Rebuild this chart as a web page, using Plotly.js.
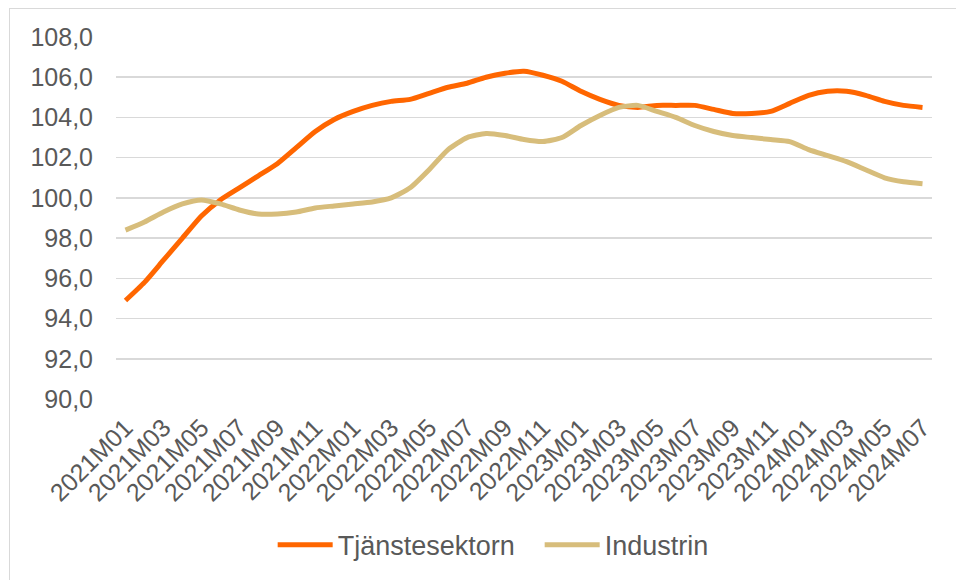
<!DOCTYPE html>
<html>
<head>
<meta charset="utf-8">
<script src="https://cdn.plot.ly/plotly-3.0.1.min.js"></script>
<style>
  html, body { margin: 0; padding: 0; background: #fff; }
  #wrap { position: relative; width: 956px; height: 580px; overflow: hidden; }
  #chart { width: 956px; height: 580px; }
  #frame { position: absolute; left: 9px; top: 8px; width: 980px; height: 600px;
           border: 1.5px solid #d9d9d9; pointer-events: none; box-sizing: border-box; }
</style>
</head>
<body>
<div id="wrap">
  <div id="chart"></div>
  <div id="frame"></div>
</div>
<script>
const months = [
  "2021M01","2021M02","2021M03","2021M04","2021M05","2021M06","2021M07","2021M08","2021M09","2021M10","2021M11","2021M12",
  "2022M01","2022M02","2022M03","2022M04","2022M05","2022M06","2022M07","2022M08","2022M09","2022M10","2022M11","2022M12",
  "2023M01","2023M02","2023M03","2023M04","2023M05","2023M06","2023M07","2023M08","2023M09","2023M10","2023M11","2023M12",
  "2024M01","2024M02","2024M03","2024M04","2024M05","2024M06","2024M07"
];
const tjanstesektorn = [
  94.9, 95.8, 96.9, 98.0, 99.1, 99.9, 100.5, 101.1, 101.7, 102.5, 103.3, 103.9,
  104.3, 104.6, 104.8, 104.9, 105.2, 105.5, 105.7, 106.0, 106.2, 106.3, 106.1, 105.8,
  105.3, 104.9, 104.6, 104.5, 104.6, 104.6, 104.6, 104.4, 104.2, 104.2, 104.3, 104.7,
  105.1, 105.3, 105.3, 105.1, 104.8, 104.6, 104.5
];
const industrin = [
  98.4, 98.8, 99.3, 99.7, 99.9, 99.7, 99.4, 99.2, 99.2, 99.3, 99.5, 99.6,
  99.7, 99.8, 100.0, 100.5, 101.4, 102.4, 103.0, 103.2, 103.1, 102.9, 102.8, 103.0,
  103.6, 104.1, 104.5, 104.6, 104.3, 104.0, 103.6, 103.3, 103.1, 103.0, 102.9, 102.8,
  102.4, 102.1, 101.8, 101.4, 101.0, 100.8, 100.7
];
const seriesNames = ["Tjänstesektorn", "Industrin"];
const yTicks = [90, 92, 94, 96, 98, 100, 102, 104, 106, 108];

const font = "Liberation Sans, Arial, sans-serif";
const textColor = "#595959";

const traces = [
  { x: months, y: tjanstesektorn, name: seriesNames[0], type: "scatter", mode: "lines",
    line: { color: "#FF6600", width: 5, shape: "spline", smoothing: 0.6 } },
  { x: months, y: industrin, name: seriesNames[1], type: "scatter", mode: "lines",
    line: { color: "#D7BD7B", width: 5, shape: "spline", smoothing: 0.6 } }
];

const layout = {
  width: 956, height: 580,
  margin: { l: 116, r: 24, t: 37, b: 180 },
  paper_bgcolor: "#ffffff", plot_bgcolor: "#ffffff",
  separators: ", ",
  font: { family: font, color: textColor, size: 25 },
  showlegend: true,
  legend: {
    orientation: "h", x: 0.192, xanchor: "left", y: -0.40, yanchor: "middle",
    font: { family: font, color: textColor, size: 27 },
    itemwidth: 55, tracegroupgap: 0,
    entrywidth: 197, entrywidthmode: "pixels"
  },
  xaxis: {
    type: "category",
    tickmode: "array",
    tickvals: months.filter((m, i) => i % 2 === 0),
    ticktext: months.filter((m, i) => i % 2 === 0),
    tickangle: -45,
    showgrid: false, zeroline: false, showline: false, ticks: "",
    ticklabelstandoff: 8,
    tickfont: { family: font, color: textColor, size: 25 },
    range: [-0.5, months.length - 0.5]
  },
  yaxis: {
    range: [90, 108],
    tickmode: "array",
    tickvals: yTicks,
    tickformat: ".1f",
    showgrid: true, gridcolor: "#d9d9d9", gridwidth: 1.5,
    zeroline: false, showline: false, ticks: "",
    ticklabelstandoff: 22,
    tickfont: { family: font, color: textColor, size: 25 }
  }
};

Plotly.newPlot("chart", traces, layout, { displayModeBar: false, staticPlot: true });
</script>
</body>
</html>
